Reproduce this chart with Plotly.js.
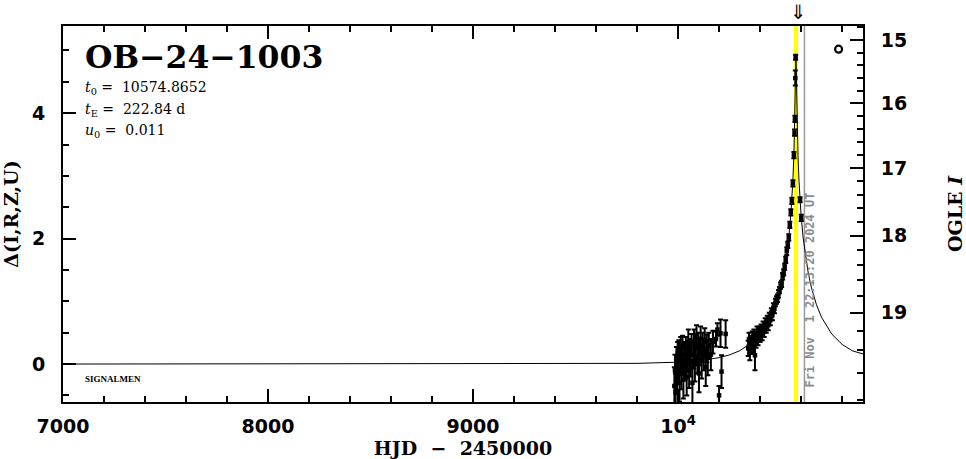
<!DOCTYPE html>
<html>
<head>
<meta charset="utf-8">
<script src="https://cdn.plot.ly/plotly-3.0.1.min.js"></script>
<style>html,body{margin:0;padding:0;background:#fff;}#chart{width:966px;height:459px;}</style>
</head>
<body>
<div id="chart"></div>
<script>
// ---- event parameters ----
const eventName = 'OB\u221224\u22121003';
const t0 = 10574.8652;
const tE = 222.84;
const u0 = 0.011;
const nowHJD = 10616.4;
const nowLabel = 'Fri Nov  1 22:13:20 2024 UT';

// ---- model curve ----
const modelT = [7000, 9000, 9500, 9800, 10000, 10100, 10200, 10250, 10300, 10340, 10360, 10380, 10400, 10420, 10440, 10460, 10480, 10500, 10510, 10520, 10530, 10540, 10550, 10555, 10560, 10565, 10567.5, 10570, 10572, 10574, 10574.87, 10576, 10577, 10580, 10582.5, 10585, 10590, 10595, 10600, 10610, 10620, 10635, 10650, 10675, 10700, 10750, 10800, 10850, 10910];
const modelD = [0.000, 0.001, 0.003, 0.011, 0.030, 0.053, 0.102, 0.145, 0.211, 0.290, 0.341, 0.402, 0.477, 0.568, 0.680, 0.820, 0.997, 1.228, 1.372, 1.545, 1.755, 2.021, 2.381, 2.619, 2.927, 3.353, 3.644, 4.028, 4.428, 4.833, 4.896, 4.790, 4.591, 3.983, 3.611, 3.326, 2.908, 2.606, 2.370, 2.013, 1.750, 1.450, 1.225, 0.946, 0.744, 0.476, 0.313, 0.211, 0.154];

// ---- photometry ----
const obsT = [9982, 9985, 9988, 9992, 9995, 9998, 10001, 10004, 10007, 10010, 10013, 10016, 10019, 10022, 10026, 10030, 10034, 10038, 10042, 10046, 10050, 10054, 10058, 10062, 10066, 10070, 10074, 10078, 10082, 10086, 10090, 10094, 10098, 10102, 10106, 10110, 10115, 10120, 10125, 10130, 10135, 10140, 10145, 10150, 10160, 10170, 10185, 10192, 10200, 10207, 10212, 10232,
  10342, 10346, 10350, 10354, 10358, 10362, 10366, 10370, 10375, 10380, 10385, 10390, 10395, 10400, 10405, 10410, 10415, 10420, 10425, 10430, 10435, 10440, 10445, 10450, 10455, 10460, 10465, 10470, 10475, 10480, 10485, 10490, 10495, 10500, 10505, 10510, 10515, 10520, 10525, 10530, 10535, 10540, 10545, 10550, 10555, 10560, 10565, 10568, 10570, 10572, 10573.5, 10595, 10601];
const obsD = [-0.35, -0.10, -0.45, 0.05, -0.20, 0.15, -0.05, 0.20, -0.30, 0.10, 0.25, -0.15, 0.05, 0.30, -0.25, 0.15, 0.00, 0.25, -0.20, 0.10, 0.35, -0.10, 0.20, 0.05, 0.30, -0.30, 0.15, 0.35, 0.00, 0.25, 0.45, 0.10, 0.30, -0.15, 0.20, 0.40, 0.05, 0.30, 0.15, 0.35, -0.05, 0.25, 0.10, 0.30, 0.15, 0.35, 0.40, 0.55, -0.50, 0.49, -0.12, 0.48,
  0.25, 0.40, 0.20, 0.35, 0.28, 0.42, 0.30, 0.45, 0.14, 0.38, 0.50, 0.40, 0.52, 0.45, 0.55, 0.48, 0.60, 0.52, 0.65, 0.58, 0.70, 0.62, 0.75, 0.70, 0.82, 0.78, 0.90, 0.88, 0.98, 1.02, 1.05, 1.12, 1.18, 1.25, 1.28, 1.40, 1.46, 1.55, 1.66, 1.80, 1.90, 2.02, 2.22, 2.42, 2.60, 2.88, 3.33, 3.69, 3.91, 4.56, 4.89, 2.62, 2.33];
const obsE = [0.30, 0.25, 0.30, 0.22, 0.28, 0.20, 0.25, 0.18, 0.30, 0.22, 0.18, 0.25, 0.20, 0.15, 0.30, 0.20, 0.25, 0.18, 0.30, 0.22, 0.20, 0.28, 0.20, 0.25, 0.18, 0.32, 0.22, 0.20, 0.28, 0.22, 0.17, 0.25, 0.20, 0.30, 0.22, 0.20, 0.28, 0.20, 0.25, 0.22, 0.30, 0.22, 0.28, 0.20, 0.25, 0.18, 0.12, 0.10, 0.15, 0.22, 0.26, 0.22,
  0.12, 0.10, 0.14, 0.10, 0.12, 0.10, 0.12, 0.10, 0.24, 0.12, 0.10, 0.10, 0.08, 0.10, 0.08, 0.10, 0.08, 0.09, 0.08, 0.08, 0.07, 0.08, 0.07, 0.08, 0.07, 0.08, 0.07, 0.07, 0.06, 0.06, 0.06, 0.06, 0.05, 0.05, 0.05, 0.05, 0.05, 0.05, 0.05, 0.06, 0.05, 0.05, 0.05, 0.05, 0.05, 0.05, 0.05, 0.05, 0.05, 0.12, 0.04, 0.04, 0.05];

// ---- extra symbol ----
const symT = [10783];
const symD = [5.02];

// ---- axes ----
const xTickVals = [7000, 8000, 9000, 10000];
const xTickText = ['7000', '8000', '9000', '10<sup>4</sup>'];
const yTickVals = [0, 2, 4];
const magMajor = [15, 16, 17, 18, 19];
const magMinor = [14.8, 15.2, 15.4, 15.6, 15.8, 16.2, 16.4, 16.6, 16.8, 17.2, 17.4, 17.6, 17.8, 18.2, 18.4, 18.6, 18.8, 19.2, 19.4, 19.6, 19.8];
const Ibase = 19.525, fsrc = 0.55;   // OGLE I scale of right axis
function magToDelta(m) {
  const F = Math.pow(10, -0.4 * (m - Ibase));
  return 2.5 * Math.log10((F - (1 - fsrc)) / fsrc);
}
const xRange = [7000, 10902];
const yRange = [-0.605, 5.39];

const serif = 'DejaVu Serif';
const sans = 'DejaVu Sans';
const sp = '\u00a0';

const traces = [
  {x: modelT, y: modelD, type: 'scatter', mode: 'lines', line: {color: '#000', width: 1}, hoverinfo: 'skip'},
  {x: obsT, y: obsD, type: 'scatter', mode: 'markers',
   marker: {symbol: 'square', size: 4.5, color: '#000'},
   error_y: {type: 'data', array: obsE, visible: true, color: '#000', thickness: 2, width: 2.5}},
  {x: symT, y: symD, type: 'scatter', mode: 'markers',
   marker: {symbol: 'circle-open', size: 7, color: '#000', line: {width: 2.2, color: '#000'}}},
  {x: [xRange[0]], y: [yRange[0]], yaxis: 'y2', type: 'scatter', mode: 'markers', marker: {opacity: 0}, hoverinfo: 'skip'},
  {x: [xRange[0]], y: [yRange[0]], yaxis: 'y3', type: 'scatter', mode: 'markers', marker: {opacity: 0}, hoverinfo: 'skip'}
];

const layout = {
  width: 966, height: 459,
  margin: {l: 63, r: 103, t: 26, b: 57},
  paper_bgcolor: '#fff', plot_bgcolor: '#fff',
  showlegend: false,
  xaxis: {
    range: xRange, showgrid: false, zeroline: false,
    showline: true, linecolor: '#000', linewidth: 2, mirror: 'ticks',
    ticks: 'inside', ticklen: 13, tickwidth: 2, tickcolor: '#000',
    tickvals: xTickVals, ticktext: xTickText,
    tickfont: {family: sans, size: 19, color: '#000', weight: 'bold'},
    ticklabelstandoff: 6,
    minor: {dtick: 200, tick0: 7000, ticks: 'inside', ticklen: 6, tickwidth: 2, tickcolor: '#000', showgrid: false},
    title: {text: 'HJD' + sp + sp + '\u2212' + sp + sp + '2450000', font: {family: serif, size: 19, color: '#000', weight: 'bold'}, standoff: 8}
  },
  yaxis: {
    range: yRange, showgrid: false, zeroline: false,
    showline: true, linecolor: '#000', linewidth: 2, mirror: false,
    ticks: 'inside', ticklen: 13, tickwidth: 2, tickcolor: '#000',
    tickvals: yTickVals, ticktext: yTickVals.map(String),
    tickfont: {family: sans, size: 19, color: '#000', weight: 'bold'},
    ticklabelstandoff: 12,
    minor: {dtick: 0.5, tick0: 0, ticks: 'inside', ticklen: 6, tickwidth: 2, tickcolor: '#000', showgrid: false},
    title: {text: '\u0394(I,R,Z,U)', font: {family: serif, size: 19, color: '#000', weight: 'bold'}, standoff: 10}
  },
  yaxis2: {
    overlaying: 'y', side: 'right', range: yRange, showgrid: false, zeroline: false,
    showline: true, linecolor: '#000', linewidth: 2,
    ticks: 'inside', ticklen: 13, tickwidth: 2, tickcolor: '#000',
    tickvals: magMajor.map(magToDelta), ticktext: magMajor.map(String),
    tickfont: {family: sans, size: 19, color: '#000', weight: 'bold'},
    ticklabelstandoff: 12,
    title: {text: 'OGLE <i>I</i>', font: {family: serif, size: 19, color: '#000', weight: 'bold'}, standoff: 44}
  },
  yaxis3: {
    overlaying: 'y', side: 'right', range: yRange, showgrid: false, zeroline: false,
    showline: false, ticks: 'inside', ticklen: 6, tickwidth: 2, tickcolor: '#000',
    tickvals: magMinor.map(magToDelta), showticklabels: false
  },
  shapes: [
    {type: 'line', xref: 'x', yref: 'paper', x0: t0, x1: t0, y0: 0, y1: 1, line: {color: '#ffff00', width: 4}, layer: 'below'},
    {type: 'line', xref: 'x', yref: 'paper', x0: nowHJD, x1: nowHJD, y0: 0, y1: 1, line: {color: '#9a9a9a', width: 1.5}, layer: 'below'}
  ],
  annotations: [
    {text: eventName, xref: 'paper', yref: 'paper', x: 0.025, y: 0.92, xanchor: 'left', yanchor: 'middle', showarrow: false,
     font: {family: serif, size: 31.5, color: '#000', weight: 'bold'}},
    {text: '<i>t</i><sub>0</sub>' + sp + '=' + sp + sp + t0.toFixed(4), xref: 'paper', yref: 'paper', x: 0.025, y: 0.834, xanchor: 'left', yanchor: 'middle', showarrow: false,
     font: {family: serif, size: 14, color: '#000'}},
    {text: '<i>t</i><sub>E</sub>' + sp + '=' + sp + sp + tE.toFixed(2) + sp + 'd', xref: 'paper', yref: 'paper', x: 0.025, y: 0.776, xanchor: 'left', yanchor: 'middle', showarrow: false,
     font: {family: serif, size: 14, color: '#000'}},
    {text: '<i>u</i><sub>0</sub>' + sp + '=' + sp + sp + u0.toFixed(3), xref: 'paper', yref: 'paper', x: 0.025, y: 0.722, xanchor: 'left', yanchor: 'middle', showarrow: false,
     font: {family: serif, size: 14, color: '#000'}},
    {text: 'SIGNALMEN', xref: 'paper', yref: 'paper', x: 0.025, y: 0.06, xanchor: 'left', yanchor: 'middle', showarrow: false,
     font: {family: 'Liberation Serif', size: 9, color: '#000', weight: 'bold'}},
    {text: nowLabel.replace(/  /g, ' \u00a0'), xref: 'x', yref: 'paper', x: 10644, y: 0.032, xanchor: 'center', yanchor: 'bottom', textangle: -90, showarrow: false,
     font: {family: 'DejaVu Sans Mono', size: 12, color: '#8c8c8c', weight: 'bold'}},
    {text: '\u21d3', xref: 'x', yref: 'paper', x: 10585, y: 1.0, xanchor: 'center', yanchor: 'bottom', showarrow: false,
     font: {family: sans, size: 20, color: '#000'}}
  ]
};

Plotly.newPlot('chart', traces, layout, {staticPlot: true, displayModeBar: false});
</script>
</body>
</html>
